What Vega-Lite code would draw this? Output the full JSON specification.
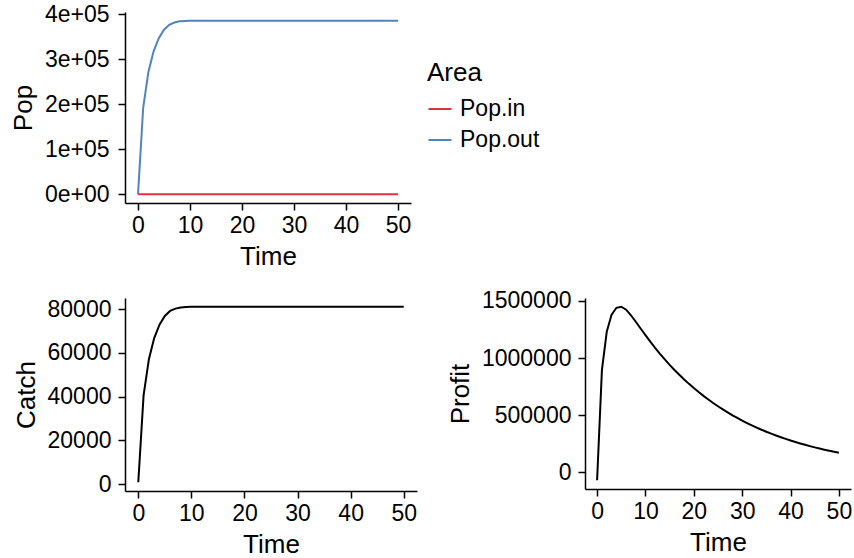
{
  "$schema": "https://vega.github.io/schema/vega-lite/v6.json",
  "padding": {"left": 10, "top": 3, "right": 0, "bottom": 0},
  "config": {
    "font": "Liberation Sans",
    "view": {"stroke": null},
    "axis": {"grid": false, "domainColor": "#000", "domainWidth": 1.5, "tickColor": "#000", "tickWidth": 1.5, "tickSize": 7, "labelFontSize": 23, "labelColor": "#000", "titleFontSize": 26, "titleFontWeight": "normal", "titleColor": "#000", "labelPadding": 4, "titlePadding": 6, "labelFlush": false, "labelOverlap": false},
    "axisY": {"labelPadding": 7, "titlePadding": 8},
    "legend": {"padding": 0},
    "line": {"strokeWidth": 2}
  },
  "datasets": {
    "pop": [
      {"Time":0,"Area":"Pop.in","Pop":300},{"Time":1,"Area":"Pop.in","Pop":300},{"Time":2,"Area":"Pop.in","Pop":300},{"Time":3,"Area":"Pop.in","Pop":300},{"Time":4,"Area":"Pop.in","Pop":300},{"Time":5,"Area":"Pop.in","Pop":300},{"Time":6,"Area":"Pop.in","Pop":300},{"Time":7,"Area":"Pop.in","Pop":300},{"Time":8,"Area":"Pop.in","Pop":300},{"Time":9,"Area":"Pop.in","Pop":300},{"Time":10,"Area":"Pop.in","Pop":300},{"Time":11,"Area":"Pop.in","Pop":300},{"Time":12,"Area":"Pop.in","Pop":300},{"Time":13,"Area":"Pop.in","Pop":300},{"Time":14,"Area":"Pop.in","Pop":300},{"Time":15,"Area":"Pop.in","Pop":300},{"Time":16,"Area":"Pop.in","Pop":300},{"Time":17,"Area":"Pop.in","Pop":300},{"Time":18,"Area":"Pop.in","Pop":300},{"Time":19,"Area":"Pop.in","Pop":300},{"Time":20,"Area":"Pop.in","Pop":300},{"Time":21,"Area":"Pop.in","Pop":300},{"Time":22,"Area":"Pop.in","Pop":300},{"Time":23,"Area":"Pop.in","Pop":300},{"Time":24,"Area":"Pop.in","Pop":300},{"Time":25,"Area":"Pop.in","Pop":300},{"Time":26,"Area":"Pop.in","Pop":300},{"Time":27,"Area":"Pop.in","Pop":300},{"Time":28,"Area":"Pop.in","Pop":300},{"Time":29,"Area":"Pop.in","Pop":300},{"Time":30,"Area":"Pop.in","Pop":300},{"Time":31,"Area":"Pop.in","Pop":300},{"Time":32,"Area":"Pop.in","Pop":300},{"Time":33,"Area":"Pop.in","Pop":300},{"Time":34,"Area":"Pop.in","Pop":300},{"Time":35,"Area":"Pop.in","Pop":300},{"Time":36,"Area":"Pop.in","Pop":300},{"Time":37,"Area":"Pop.in","Pop":300},{"Time":38,"Area":"Pop.in","Pop":300},{"Time":39,"Area":"Pop.in","Pop":300},{"Time":40,"Area":"Pop.in","Pop":300},{"Time":41,"Area":"Pop.in","Pop":300},{"Time":42,"Area":"Pop.in","Pop":300},{"Time":43,"Area":"Pop.in","Pop":300},{"Time":44,"Area":"Pop.in","Pop":300},{"Time":45,"Area":"Pop.in","Pop":300},{"Time":46,"Area":"Pop.in","Pop":300},{"Time":47,"Area":"Pop.in","Pop":300},{"Time":48,"Area":"Pop.in","Pop":300},{"Time":49,"Area":"Pop.in","Pop":300},{"Time":50,"Area":"Pop.in","Pop":300},
      {"Time":0,"Area":"Pop.out","Pop":0},{"Time":1,"Area":"Pop.out","Pop":193000},{"Time":2,"Area":"Pop.out","Pop":272000},{"Time":3,"Area":"Pop.out","Pop":318000},{"Time":4,"Area":"Pop.out","Pop":347000},{"Time":5,"Area":"Pop.out","Pop":366000},{"Time":6,"Area":"Pop.out","Pop":377000},{"Time":7,"Area":"Pop.out","Pop":382000},{"Time":8,"Area":"Pop.out","Pop":384500},{"Time":9,"Area":"Pop.out","Pop":385500},{"Time":10,"Area":"Pop.out","Pop":386000},{"Time":11,"Area":"Pop.out","Pop":386000},{"Time":12,"Area":"Pop.out","Pop":386000},{"Time":13,"Area":"Pop.out","Pop":386000},{"Time":14,"Area":"Pop.out","Pop":386000},{"Time":15,"Area":"Pop.out","Pop":386000},{"Time":16,"Area":"Pop.out","Pop":386000},{"Time":17,"Area":"Pop.out","Pop":386000},{"Time":18,"Area":"Pop.out","Pop":386000},{"Time":19,"Area":"Pop.out","Pop":386000},{"Time":20,"Area":"Pop.out","Pop":386000},{"Time":21,"Area":"Pop.out","Pop":386000},{"Time":22,"Area":"Pop.out","Pop":386000},{"Time":23,"Area":"Pop.out","Pop":386000},{"Time":24,"Area":"Pop.out","Pop":386000},{"Time":25,"Area":"Pop.out","Pop":386000},{"Time":26,"Area":"Pop.out","Pop":386000},{"Time":27,"Area":"Pop.out","Pop":386000},{"Time":28,"Area":"Pop.out","Pop":386000},{"Time":29,"Area":"Pop.out","Pop":386000},{"Time":30,"Area":"Pop.out","Pop":386000},{"Time":31,"Area":"Pop.out","Pop":386000},{"Time":32,"Area":"Pop.out","Pop":386000},{"Time":33,"Area":"Pop.out","Pop":386000},{"Time":34,"Area":"Pop.out","Pop":386000},{"Time":35,"Area":"Pop.out","Pop":386000},{"Time":36,"Area":"Pop.out","Pop":386000},{"Time":37,"Area":"Pop.out","Pop":386000},{"Time":38,"Area":"Pop.out","Pop":386000},{"Time":39,"Area":"Pop.out","Pop":386000},{"Time":40,"Area":"Pop.out","Pop":386000},{"Time":41,"Area":"Pop.out","Pop":386000},{"Time":42,"Area":"Pop.out","Pop":386000},{"Time":43,"Area":"Pop.out","Pop":386000},{"Time":44,"Area":"Pop.out","Pop":386000},{"Time":45,"Area":"Pop.out","Pop":386000},{"Time":46,"Area":"Pop.out","Pop":386000},{"Time":47,"Area":"Pop.out","Pop":386000},{"Time":48,"Area":"Pop.out","Pop":386000},{"Time":49,"Area":"Pop.out","Pop":386000},{"Time":50,"Area":"Pop.out","Pop":386000}
    ],
    "econ": [
      {"Time":0,"Catch":840,"Profit":-71000},{"Time":1,"Catch":40530,"Profit":897400},{"Time":2,"Catch":57120,"Profit":1230800},{"Time":3,"Catch":66780,"Profit":1380900},{"Time":4,"Catch":72870,"Profit":1440400},{"Time":5,"Catch":76860,"Profit":1449900},{"Time":6,"Catch":79170,"Profit":1424000},{"Time":7,"Catch":80220,"Profit":1374800},{"Time":8,"Catch":80745,"Profit":1318200},{"Time":9,"Catch":80955,"Profit":1258900},
      {"Time":10,"Catch":81060,"Profit":1200500},{"Time":11,"Catch":81060,"Profit":1143300},{"Time":12,"Catch":81060,"Profit":1088900},{"Time":13,"Catch":81060,"Profit":1037000},{"Time":14,"Catch":81060,"Profit":987700},{"Time":15,"Catch":81060,"Profit":940600},{"Time":16,"Catch":81060,"Profit":895800},{"Time":17,"Catch":81060,"Profit":853200},{"Time":18,"Catch":81060,"Profit":812500},{"Time":19,"Catch":81060,"Profit":773900},
      {"Time":20,"Catch":81060,"Profit":737000},{"Time":21,"Catch":81060,"Profit":701900},{"Time":22,"Catch":81060,"Profit":668500},{"Time":23,"Catch":81060,"Profit":636700},{"Time":24,"Catch":81060,"Profit":606300},{"Time":25,"Catch":81060,"Profit":577500},{"Time":26,"Catch":81060,"Profit":550000},{"Time":27,"Catch":81060,"Profit":523800},{"Time":28,"Catch":81060,"Profit":498800},{"Time":29,"Catch":81060,"Profit":475100},
      {"Time":30,"Catch":81060,"Profit":452500},{"Time":31,"Catch":81060,"Profit":430900},{"Time":32,"Catch":81060,"Profit":410400},{"Time":33,"Catch":81060,"Profit":390900},{"Time":34,"Catch":81060,"Profit":372200},{"Time":35,"Catch":81060,"Profit":354500},{"Time":36,"Catch":81060,"Profit":337600},{"Time":37,"Catch":81060,"Profit":321600},{"Time":38,"Catch":81060,"Profit":306200},{"Time":39,"Catch":81060,"Profit":291700},
      {"Time":40,"Catch":81060,"Profit":277800},{"Time":41,"Catch":81060,"Profit":264500},{"Time":42,"Catch":81060,"Profit":251900},{"Time":43,"Catch":81060,"Profit":240000},{"Time":44,"Catch":81060,"Profit":228500},{"Time":45,"Catch":81060,"Profit":217600},{"Time":46,"Catch":81060,"Profit":207300},{"Time":47,"Catch":81060,"Profit":197400},{"Time":48,"Catch":81060,"Profit":188000},{"Time":49,"Catch":81060,"Profit":179100},{"Time":50,"Catch":81060,"Profit":170500}
    ]
  },
  "vconcat": [
    {
      "width": 286, "height": 191,
      "data": {"name": "pop"},
      "mark": {"type": "line", "strokeWidth": 2},
      "encoding": {
        "x": {"field": "Time", "type": "quantitative", "scale": {"domain": [-2.5, 52.5], "nice": false, "zero": false}, "axis": {"values": [0,10,20,30,40,50]}},
        "y": {"field": "Pop", "type": "quantitative", "scale": {"domain": [-19300, 405300], "nice": false, "zero": false}, "axis": {"values": [0,100000,200000,300000,400000], "labelPadding": 9, "labelExpr": "format(datum.value/100000,'d') + (datum.value == 0 ? 'e+00' : 'e+05')"}},
        "color": {"field": "Area", "type": "nominal", "scale": {"domain": ["Pop.in","Pop.out"], "range": ["#E3303F","#4F84C0"]},
          "legend": {"orient": "none", "legendX": 302, "legendY": 48, "title": "Area", "titleFontSize": 26, "titleFontWeight": "normal", "titleColor": "#000", "titlePadding": 10, "labelFontSize": 23, "labelColor": "#000", "symbolType": "stroke", "symbolSize": 530, "symbolStrokeWidth": 2, "rowPadding": 6, "labelOffset": 7}}
      }
    },
    {
      "hconcat": [
        {
          "width": 292, "height": 193,
          "data": {"name": "econ"},
          "mark": {"type": "line", "strokeWidth": 2, "color": "#000"},
          "encoding": {
            "x": {"field": "Time", "type": "quantitative", "scale": {"domain": [-2.5, 52.5], "nice": false, "zero": false}, "axis": {"values": [0,10,20,30,40,50]}},
            "y": {"field": "Catch", "type": "quantitative", "scale": {"domain": [-3171, 85071], "nice": false, "zero": false}, "axis": {"values": [0,20000,40000,60000,80000], "format": "d"}}
          }
        },
        {
          "width": 266, "height": 191,
          "data": {"name": "econ"},
          "mark": {"type": "line", "strokeWidth": 2, "color": "#000"},
          "encoding": {
            "x": {"field": "Time", "type": "quantitative", "scale": {"domain": [-2.5, 52.5], "nice": false, "zero": false}, "axis": {"values": [0,10,20,30,40,50]}},
            "y": {"field": "Profit", "type": "quantitative", "scale": {"domain": [-147050, 1526050], "nice": false, "zero": false}, "axis": {"values": [0,500000,1000000,1500000], "format": "d"}}
          }
        }
      ],
      "spacing": 30
    }
  ],
  "spacing": 20
}
